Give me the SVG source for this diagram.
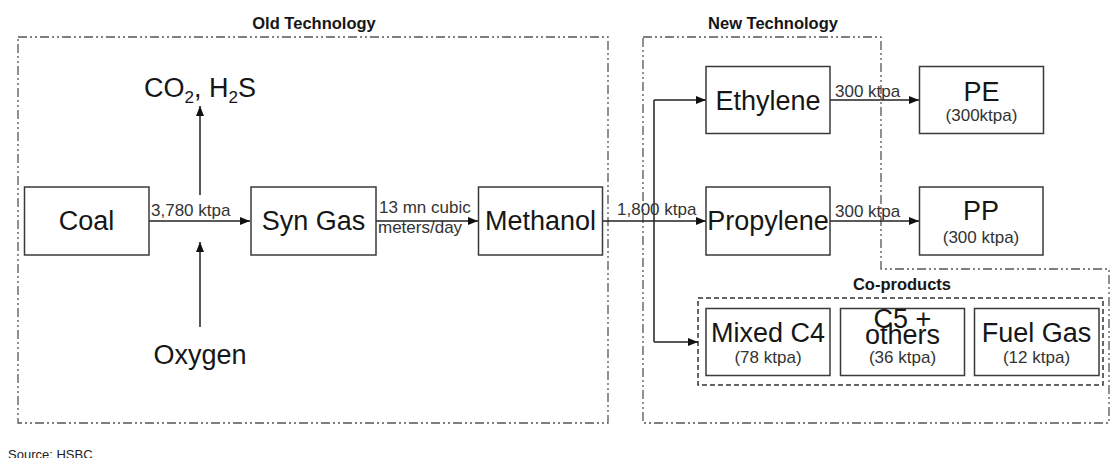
<svg xmlns="http://www.w3.org/2000/svg" width="1119" height="458" viewBox="0 0 1119 458">
<defs>
<marker id="ah" viewBox="0 0 10 8" refX="10" refY="4" markerWidth="10" markerHeight="8" markerUnits="userSpaceOnUse" orient="auto">
<path d="M0,0 L10,4 L0,8 Z" fill="#111"/>
</marker>
<style>
text{font-family:"Liberation Sans",Arial,sans-serif;fill:#161616}
.big{font-size:27px;text-anchor:middle}
.sub{font-size:17px;text-anchor:middle;fill:#333}
.lbl{font-size:17px;fill:#333}
.title{font-size:16.5px;font-weight:bold;text-anchor:middle}
.box{fill:#fff;stroke:#3a3a3a;stroke-width:1.5}
.group{fill:none;stroke:#555;stroke-width:1.3;stroke-dasharray:9 3 2 3 2 3}
.dash{fill:none;stroke:#333;stroke-width:1.5;stroke-dasharray:5 3}
.conn{fill:none;stroke:#222;stroke-width:1.5}
.arr{marker-end:url(#ah)}
</style>
</defs>
<g id="groups">
<rect class="group" x="18" y="37" width="590" height="386"/>
<text class="title" x="314" y="29">Old Technology</text>
<path class="group" d="M643,37 H881 V269 H1109 V423 H643 Z"/>
<text class="title" x="773" y="29">New Technology</text>
<rect class="dash" x="698" y="298" width="405" height="87"/>
<text class="title" x="902" y="290">Co-products</text>
</g>
<g id="connectors">
<line class="conn arr" x1="149" y1="221" x2="250" y2="221"/>
<line class="conn arr" x1="376" y1="221" x2="478" y2="221"/>
<line class="conn arr" x1="602" y1="221" x2="706" y2="221"/>
<line class="conn arr" x1="200" y1="195" x2="200" y2="106"/>
<line class="conn arr" x1="200" y1="327" x2="200" y2="242"/>
<path class="conn arr" d="M654,100 H706"/>
<path class="conn" d="M654,100 V342"/>
<path class="conn arr" d="M654,342 H698"/>
<line class="conn arr" x1="830" y1="100" x2="919" y2="100"/>
<line class="conn arr" x1="830" y1="221" x2="919" y2="221"/>
<text class="lbl" x="151" y="216">3,780 ktpa</text>
<text class="lbl" x="379" y="213">13 mn cubic</text>
<text class="lbl" x="378" y="233">meters/day</text>
<text class="lbl" x="617" y="215">1,800 ktpa</text>
<text class="lbl" x="835" y="97">300 ktpa</text>
<text class="lbl" x="835" y="217">300 ktpa</text>
</g>
<g id="coal"><rect class="box" x="24.5" y="187" width="124.5" height="68"/><text class="big" x="86.5" y="230">Coal</text></g>
<g id="syngas"><rect class="box" x="251" y="187" width="125" height="68"/><text class="big" x="313.5" y="230">Syn Gas</text></g>
<g id="methanol"><rect class="box" x="478.5" y="187" width="124" height="68"/><text class="big" x="540.5" y="230">Methanol</text></g>
<g id="co2"><text class="big" x="200" y="97">CO<tspan font-size="17" dy="6">2</tspan><tspan dy="-6">, H</tspan><tspan font-size="17" dy="6">2</tspan><tspan dy="-6">S</tspan></text></g>
<g id="oxygen"><text class="big" x="200" y="364">Oxygen</text></g>
<g id="ethylene"><rect class="box" x="706" y="66.5" width="124" height="67"/><text class="big" x="768" y="110">Ethylene</text></g>
<g id="propylene"><rect class="box" x="706" y="187" width="124" height="68"/><text class="big" x="768" y="230">Propylene</text></g>
<g id="pe"><rect class="box" x="919.5" y="66.5" width="124" height="67"/><text class="big" x="981.5" y="101">PE</text><text class="sub" x="981.5" y="121">(300ktpa)</text></g>
<g id="pp"><rect class="box" x="919.5" y="187" width="123.5" height="68"/><text class="big" x="981" y="220">PP</text><text class="sub" x="981" y="243">(300 ktpa)</text></g>
<g id="mixedc4"><rect class="box" x="706" y="308.5" width="124" height="67"/><text class="big" x="768" y="342">Mixed C4</text><text class="sub" x="768" y="363">(78 ktpa)</text></g>
<g id="c5"><rect class="box" x="840.5" y="308.5" width="124" height="67"/><text class="big" x="902.5" y="328">C5 +</text><text class="big" x="902.5" y="344">others</text><text class="sub" x="902.5" y="363">(36 ktpa)</text></g>
<g id="fuelgas"><rect class="box" x="974.5" y="308.5" width="124.5" height="67"/><text class="big" x="1036.5" y="342">Fuel Gas</text><text class="sub" x="1036.5" y="363">(12 ktpa)</text></g>
<text x="8" y="459" font-size="13" style="fill:#222">Source: HSBC</text>
</svg>
